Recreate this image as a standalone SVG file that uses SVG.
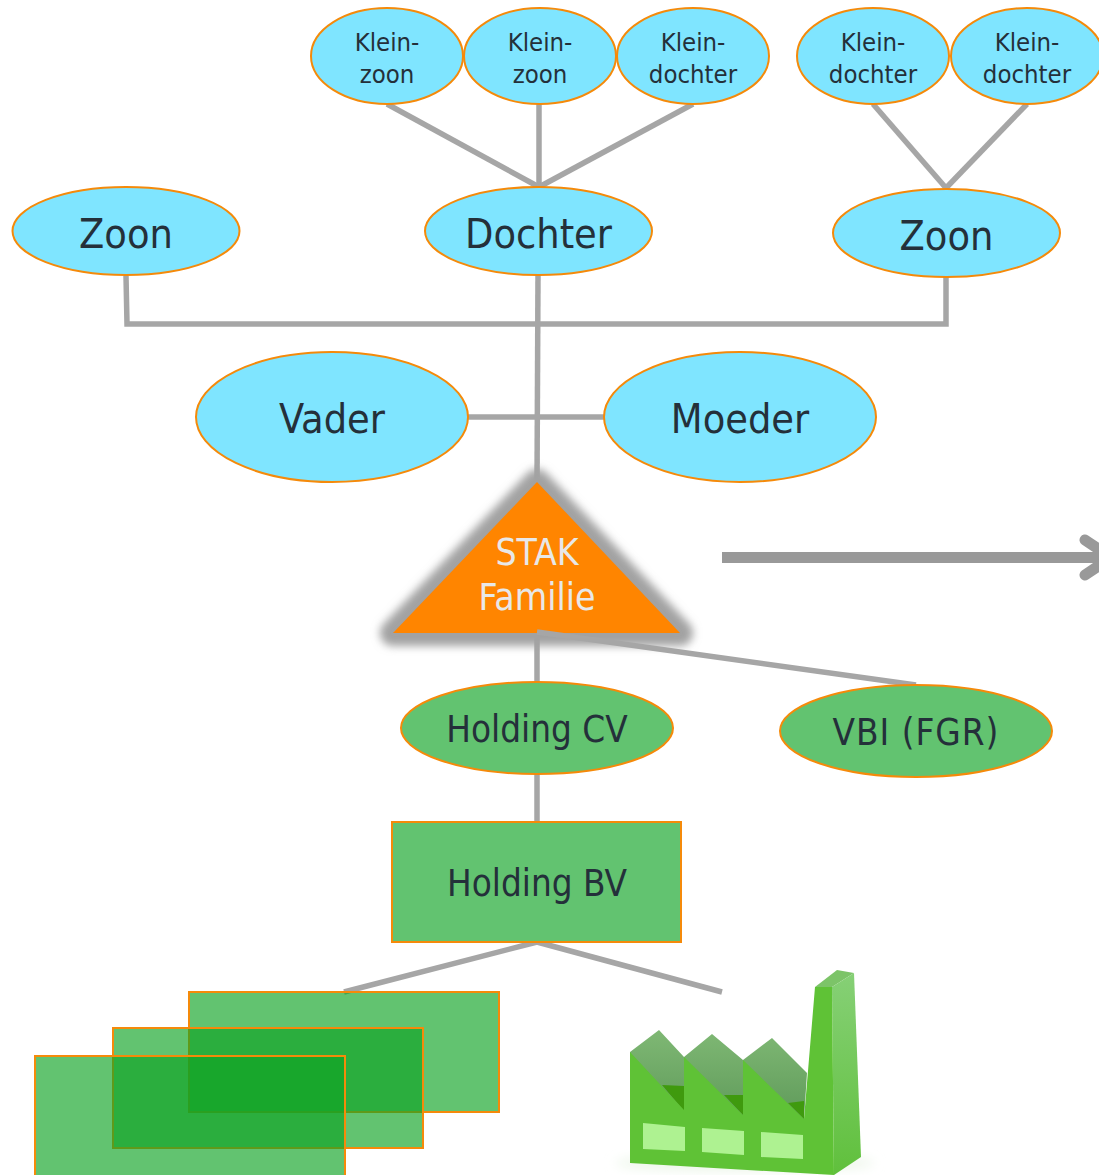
<svg xmlns="http://www.w3.org/2000/svg" width="1099" height="1175" viewBox="0 0 1099 1175">
<defs>
<style>
text{font-family:"DejaVu Sans",sans-serif;font-stretch:condensed;text-anchor:middle;fill:#24303a}
.c{fill:#7fe5ff;stroke:#f58a0a;stroke-width:2}
.g{fill:#62c370;stroke:#f58a0a;stroke-width:2}
.o{fill:#0ea323;fill-opacity:.65;stroke:#f58a0a;stroke-width:2}
.s{font-size:25.500px}.m{font-size:41px}.l{font-size:41px}.h{font-size:36.500px}
#connectors line,#connectors polyline{stroke:#a6a6a6;stroke-width:5.500;fill:none}
</style>
<filter id="blur" x="-20%" y="-20%" width="140%" height="140%"><feGaussianBlur stdDeviation="4"/></filter>
<linearGradient id="roof" x1="0" y1="0" x2="0" y2="1"><stop offset="0" stop-color="#7fb874"/><stop offset="1" stop-color="#5f9a5a"/></linearGradient>
<linearGradient id="side" x1="0" y1="0" x2="0" y2="1"><stop offset="0" stop-color="#86d076"/><stop offset="1" stop-color="#60c03c"/></linearGradient>
<filter id="soft" x="-20%" y="-50%" width="140%" height="200%"><feGaussianBlur stdDeviation="6"/></filter>
</defs>
<rect width="1099" height="1175" fill="#fff"/>
<g id="connectors">
<line x1="387" y1="104" x2="539" y2="187"/>
<line x1="539" y1="104" x2="539" y2="187"/>
<line x1="693" y1="104" x2="539" y2="187"/>
<line x1="873" y1="104" x2="946" y2="188"/>
<line x1="1027" y1="104" x2="946" y2="188"/>
<polyline points="126,276 127,324 946,324 946,277"/>
<line x1="538" y1="275" x2="537" y2="484"/>
<line x1="468" y1="417" x2="604" y2="417"/>
<line x1="537" y1="634" x2="537" y2="682"/>
<line x1="537" y1="774" x2="537" y2="822"/>
<line x1="537" y1="942" x2="344" y2="992"/>
<line x1="537" y1="942" x2="722" y2="992"/>
</g>
<g id="klein1"><ellipse class="c" cx="387" cy="56" rx="76" ry="48"/><text class="s" x="387" y="51">Klein-</text><text class="s" x="387" y="83">zoon</text></g>
<g id="klein2"><ellipse class="c" cx="540" cy="56" rx="76" ry="48"/><text class="s" x="540" y="51">Klein-</text><text class="s" x="540" y="83">zoon</text></g>
<g id="klein3"><ellipse class="c" cx="693" cy="56" rx="76" ry="48"/><text class="s" x="693" y="51">Klein-</text><text class="s" x="693" y="83">dochter</text></g>
<g id="klein4"><ellipse class="c" cx="873" cy="56" rx="76" ry="48"/><text class="s" x="873" y="51">Klein-</text><text class="s" x="873" y="83">dochter</text></g>
<g id="klein5"><ellipse class="c" cx="1027" cy="56" rx="76" ry="48"/><text class="s" x="1027" y="51">Klein-</text><text class="s" x="1027" y="83">dochter</text></g>
<g id="zoon1"><ellipse class="c" cx="126" cy="231" rx="113.500" ry="44"/><text class="m" x="126" y="248">Zoon</text></g>
<g id="dochter"><ellipse class="c" cx="538.500" cy="231" rx="113.500" ry="44"/><text class="m" x="538.500" y="248">Dochter</text></g>
<g id="zoon2"><ellipse class="c" cx="946.500" cy="233" rx="113.500" ry="44"/><text class="m" x="946.500" y="250">Zoon</text></g>
<g id="vader"><ellipse class="c" cx="332" cy="417" rx="136" ry="65"/><text class="l" x="332" y="433">Vader</text></g>
<g id="moeder"><ellipse class="c" cx="740" cy="417" rx="136" ry="65"/><text class="l" x="740" y="433">Moeder</text></g>
<g id="stak">
<polygon points="537,482 393,633 680,633" fill="#a2a2a2" stroke="#a2a2a2" stroke-width="26" stroke-linejoin="round" filter="url(#blur)"/>
<polygon points="537,482 393,633 680,633" fill="#ff8500"/>
<text x="537" y="565" font-size="37" style="fill:#e8e8e8">STAK</text>
<text x="537" y="610" font-size="37" style="fill:#e8e8e8">Familie</text>
</g>
<line x1="537" y1="632" x2="916" y2="685" stroke="#a6a6a6" stroke-width="5.500"/>
<g id="arrow" fill="none" stroke="#999" stroke-linecap="round">
<line x1="722" y1="557.500" x2="1099" y2="557.500" stroke-width="11" stroke-linecap="butt"/>
<polyline points="1085,540 1111,557.500 1085,575" stroke-width="11"/>
</g>
<g id="holdingcv"><ellipse class="g" cx="537" cy="728" rx="136" ry="46"/><text class="h" x="537" y="742">Holding CV</text></g>
<g id="vbi"><ellipse class="g" cx="916" cy="731" rx="136" ry="46"/><text class="h" x="916" y="745" letter-spacing="1">VBI (FGR)</text></g>
<g id="holdingbv"><rect class="g" x="392" y="822" width="289" height="120"/><text class="h" x="537" y="896">Holding BV</text></g>
<g id="werk">
<rect class="o" x="189" y="992" width="310" height="120"/>
<rect class="o" x="113" y="1028" width="310" height="120"/>
<rect class="o" x="35" y="1056" width="310" height="120"/>
</g>
<g id="factory">
<ellipse cx="745" cy="1163" rx="130" ry="7" fill="#e8f4e4" filter="url(#soft)"/>
<polygon points="630,1052 659,1030 684,1057 712,1034 743,1060 772,1038 807,1073 804,1119 630,1110" fill="url(#roof)"/>
<polygon points="662,1085 684,1086 684,1111" fill="#3f9a0e"/>
<polygon points="724,1095 743,1095 743,1115" fill="#3f9a0e"/>
<polygon points="788,1103 804,1101 804,1119" fill="#3f9a0e"/>
<polygon points="815,987 837,970 854,973 832,987" fill="#7cc468"/>
<polygon points="832,987 854,973 861,1157 834,1175" fill="url(#side)"/>
<polygon points="630,1052 684,1110 684,1057 743,1115 743,1060 804,1119 815,987 832,987 834,1175 630,1163" fill="#5fc236"/>
<polygon points="643,1123 685,1127 685,1151 643,1149" fill="#aef291"/>
<polygon points="702,1128 744,1131 744,1155 702,1152" fill="#aef291"/>
<polygon points="761,1132 803,1135 803,1159 761,1157" fill="#aef291"/>
</g>
</svg>
